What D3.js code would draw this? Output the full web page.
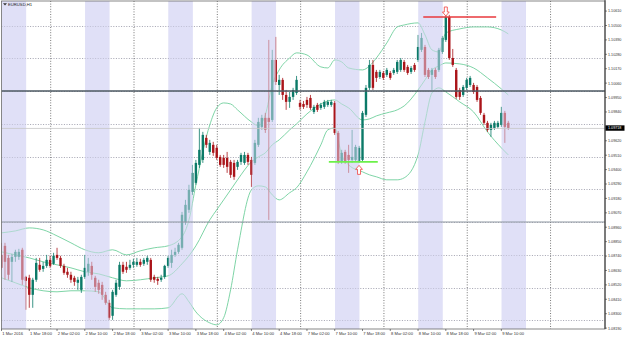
<!DOCTYPE html>
<html>
<head>
<meta charset="utf-8">
<script src="https://cdn.jsdelivr.net/npm/d3@7/dist/d3.min.js"></script>
<style>
  body { margin: 0; background: #fff; }
  svg { display: block; }
  text { font-family: "Liberation Sans", Arial, sans-serif; }
</style>
</head>
<body>
<div class="chart"></div>
<script>
// EURUSD H1, 1 Mar 2016 10:00 .. 9 Mar 2016 12:00 (one value per hourly bar)
var barOpen = [1.08749,1.08818,1.08726,1.08696,1.08734,1.08734,1.08788,1.08581,1.08574,1.08444,
  1.08559,1.08673,1.08642,1.08665,1.08711,1.08681,1.08749,1.08726,1.08665,1.08620,
  1.08597,1.08574,1.08536,1.08482,1.08581,1.08620,1.08665,1.08574,1.08536,1.08520,
  1.08444,1.08383,1.08284,1.08444,1.08505,1.08673,1.08658,1.08650,1.08673,1.08673,
  1.08696,1.08681,1.08696,1.08711,1.08581,1.08566,1.08559,1.08581,1.08665,1.08688,
  1.08749,1.08772,1.08803,1.09001,1.09093,1.09230,1.09299,1.09436,1.09474,1.09642,
  1.09535,1.09589,1.09566,1.09497,1.09490,1.09490,1.09459,1.09451,1.09421,1.09459,
  1.09451,1.09512,1.09474,1.09451,1.09589,1.09726,1.09795,1.09795,1.09779,1.10237,
  1.10046,1.10085,1.09970,1.09917,1.09955,1.09985,1.09909,1.09901,1.09932,1.09947,
  1.09840,1.09894,1.09871,1.09879,1.09894,1.09894,1.09909,1.09680,1.09459,1.09535,
  1.09512,1.09474,1.09474,1.09459,1.09474,1.09818,1.10024,1.10199,1.10146,1.10107,
  1.10138,1.10123,1.10138,1.10138,1.10146,1.10161,1.10222,1.10184,1.10146,1.10199,
  1.10237,1.10314,1.10336,1.10161,1.10123,1.10161,1.10161,1.10298,1.10390,1.10565,
  1.10252,1.10161,1.10008,1.09970,1.10024,1.10046,1.10046,1.10031,1.09947,1.09818,
  1.09757,1.09703,1.09718,1.09726,1.09741,1.09833,1.09757];
var barHigh = [1.08841,1.08841,1.08749,1.08757,1.08788,1.08795,1.08803,1.08589,1.08597,1.08574,
  1.08726,1.08726,1.08696,1.08749,1.08742,1.08765,1.08803,1.08742,1.08681,1.08650,
  1.08620,1.08589,1.08581,1.08597,1.08749,1.08726,1.08696,1.08589,1.08559,1.08543,
  1.08467,1.08406,1.08482,1.08559,1.08696,1.08696,1.08696,1.08711,1.08719,1.08726,
  1.08719,1.08726,1.08742,1.08726,1.08597,1.08581,1.08597,1.08673,1.08742,1.08788,
  1.08803,1.08841,1.09077,1.09169,1.09284,1.09436,1.09474,1.09718,1.09688,1.09665,
  1.09627,1.09612,1.09589,1.09512,1.09512,1.09535,1.09474,1.09474,1.09474,1.09528,
  1.09535,1.09528,1.09497,1.09627,1.09795,1.09818,1.09833,1.10390,1.10314,1.10413,
  1.10123,1.10100,1.10008,1.09993,1.10024,1.10115,1.09932,1.09924,1.09955,1.09970,
  1.09894,1.09909,1.09909,1.09932,1.09932,1.09932,1.09924,1.09695,1.09551,1.09551,
  1.09589,1.09703,1.09589,1.09581,1.09848,1.10046,1.10237,1.10237,1.10161,1.10161,
  1.10153,1.10176,1.10153,1.10176,1.10237,1.10252,1.10237,1.10199,1.10191,1.10214,
  1.10428,1.10443,1.10352,1.10176,1.10176,1.10176,1.10329,1.10420,1.10581,1.10581,
  1.10321,1.10176,1.10024,1.10046,1.10100,1.10115,1.10062,1.10046,1.09962,1.09833,
  1.09772,1.09757,1.09772,1.09772,1.09879,1.09848,1.09772];
var barLow = [1.08635,1.08559,1.08559,1.08543,1.08696,1.08711,1.08520,1.08330,1.08345,1.08345,
  1.08543,1.08620,1.08620,1.08650,1.08650,1.08673,1.08711,1.08650,1.08597,1.08574,
  1.08536,1.08513,1.08482,1.08459,1.08566,1.08589,1.08559,1.08467,1.08452,1.08406,
  1.08368,1.08253,1.08253,1.08429,1.08482,1.08604,1.08612,1.08635,1.08650,1.08658,
  1.08658,1.08665,1.08673,1.08543,1.08536,1.08520,1.08543,1.08566,1.08650,1.08650,
  1.08734,1.08757,1.08788,1.08978,1.09070,1.09207,1.09284,1.09413,1.09451,1.09566,
  1.09512,1.09505,1.09474,1.09421,1.09413,1.09375,1.09337,1.09322,1.09398,1.09436,
  1.09436,1.09436,1.09268,1.09436,1.09573,1.09703,1.09680,1.09016,1.09764,1.10046,
  1.09970,1.09932,1.09856,1.09871,1.09932,1.09970,1.09856,1.09863,1.09871,1.09856,
  1.09825,1.09840,1.09856,1.09863,1.09879,1.09879,1.09665,1.09444,1.09444,1.09444,
  1.09375,1.09451,1.09459,1.09451,1.09459,1.09802,1.10008,1.10008,1.10069,1.10092,
  1.10085,1.10107,1.10085,1.10123,1.10130,1.10146,1.10146,1.10123,1.10130,1.10146,
  1.10222,1.10298,1.10107,1.10092,1.10008,1.10092,1.10146,1.10283,1.10375,1.10237,
  1.10184,1.09940,1.09932,1.09955,1.10008,1.10031,1.09978,1.09917,1.09818,1.09741,
  1.09688,1.09650,1.09703,1.09711,1.09726,1.09604,1.09703];
var barClose = [1.08650,1.08696,1.08597,1.08734,1.08772,1.08772,1.08559,1.08551,1.08444,1.08559,
  1.08688,1.08635,1.08665,1.08711,1.08665,1.08742,1.08726,1.08665,1.08612,1.08597,
  1.08559,1.08543,1.08559,1.08581,1.08650,1.08681,1.08597,1.08505,1.08482,1.08444,
  1.08383,1.08269,1.08467,1.08536,1.08673,1.08620,1.08635,1.08673,1.08696,1.08696,
  1.08673,1.08711,1.08726,1.08559,1.08559,1.08551,1.08574,1.08665,1.08726,1.08749,
  1.08772,1.08826,1.09055,1.09131,1.09245,1.09375,1.09451,1.09551,1.09665,1.09589,
  1.09604,1.09528,1.09490,1.09436,1.09436,1.09421,1.09360,1.09345,1.09459,1.09512,
  1.09512,1.09459,1.09360,1.09604,1.09764,1.09795,1.09703,1.09764,1.10237,1.10069,
  1.10085,1.09970,1.09917,1.09955,1.10008,1.10085,1.09879,1.09879,1.09894,1.09871,
  1.09879,1.09856,1.09894,1.09917,1.09917,1.09917,1.09680,1.09459,1.09528,1.09459,
  1.09474,1.09497,1.09573,1.09566,1.09833,1.10024,1.10199,1.10024,1.10100,1.10146,
  1.10100,1.10161,1.10100,1.10161,1.10222,1.10237,1.10161,1.10138,1.10176,1.10161,
  1.10336,1.10405,1.10123,1.10107,1.10161,1.10107,1.10314,1.10405,1.10565,1.10252,
  1.10199,1.09955,1.09955,1.10031,1.10085,1.10100,1.09993,1.09932,1.09833,1.09757,
  1.09703,1.09741,1.09757,1.09757,1.09833,1.09726,1.09718];

// Bollinger band values at these bars
var bandIdx = [0,4,8,12,16,20,24,28,32,36,40,44,48,52,54,56,60,62,64,66,68,72,74,76,78,80,83,85,88,92,
  94,96,98,100,104,106,108,111,114,116,120,122,124,126,128,132,136,140,144,146];
var bandUpper = [1.08917,1.08932,1.08955,1.08940,1.08894,1.08841,1.08788,1.08765,1.08788,1.08749,
  1.08780,1.08803,1.08818,1.08887,1.09016,1.09284,1.09741,1.09871,1.09909,1.09901,
  1.09856,1.09764,1.09734,1.09818,1.10046,1.10161,1.10252,1.10291,1.10275,1.10184,
  1.10176,1.10237,1.10222,1.10176,1.10161,1.10191,1.10252,1.10367,1.10489,1.10504,
  1.10520,1.10428,1.10314,1.10298,1.10443,1.10474,1.10489,1.10489,1.10466,1.10436];
var bandMiddle = [1.08772,1.08749,1.08726,1.08696,1.08673,1.08650,1.08620,1.08604,1.08574,1.08551,
  1.08559,1.08574,1.08589,1.08681,1.08742,1.08818,1.09016,1.09093,1.09169,1.09245,
  1.09322,1.09459,1.09497,1.09528,1.09589,1.09627,1.09703,1.09749,1.09825,1.09901,
  1.09924,1.09932,1.09901,1.09871,1.09779,1.09787,1.09810,1.09833,1.09856,1.09886,
  1.10008,1.10085,1.10161,1.10191,1.10214,1.10207,1.10176,1.10100,1.10016,1.09970];
var bandLower = [1.08574,1.08536,1.08498,1.08475,1.08467,1.08475,1.08475,1.08467,1.08345,1.08337,
  1.08337,1.08337,1.08345,1.08452,1.08391,1.08314,1.08230,1.08215,1.08269,1.08482,
  1.08788,1.09245,1.09276,1.09268,1.09207,1.09169,1.09223,1.09261,1.09383,1.09589,
  1.09703,1.09718,1.09512,1.09436,1.09383,1.09360,1.09345,1.09322,1.09322,1.09337,
  1.09512,1.09764,1.09985,1.10024,1.09993,1.09917,1.09840,1.09688,1.09566,1.09512];

// time axis: bar index and text
var timeTickIdx = [0,8,16,24,32,40,48,56,64,72,80,88,96,104,112,120,128,136,144];
var timeTickText = ["1 Mar 2016","1 Mar 18:00","2 Mar 02:00","2 Mar 10:00","2 Mar 18:00","3 Mar 02:00",
  "3 Mar 10:00","3 Mar 18:00","4 Mar 02:00","4 Mar 10:00","4 Mar 18:00","7 Mar 02:00","7 Mar 10:00",
  "7 Mar 18:00","8 Mar 02:00","8 Mar 10:00","8 Mar 18:00","9 Mar 02:00","9 Mar 10:00"];
var priceTicks = [1.10610,1.10500,1.10390,1.10280,1.10170,1.10060,1.09950,1.09840,1.09730,1.09620,
  1.09510,1.09400,1.09290,1.09180,1.09070,1.08960,1.08850,1.08740,1.08630,1.08520,1.08410,1.08300,1.08190];
var gridPrices = [1.0825,1.0850,1.0875,1.0900,1.0925,1.0950,1.0975,1.1000,1.1025,1.1050];
var dayStartIdx = [14,38,62,86,110,134,158];
var sessionStartIdx = [0,24,48,72,96,120,144];
var levelPrices = [1.1000, 1.0900];
var resistance = {price: 1.10565, from: 121.5, to: 142.5, arrowAt: 128};
var support = {price: 1.09459, from: 94.3, to: 108.4, arrowAt: 103};

var svgWidth = 625, svgHeight = 339;
var plot = {left: 1.5, top: 1, right: 605, bottom: 329};

var svg = d3.select(".chart").append("svg")
  .attr("width", svgWidth).attr("height", svgHeight);
svg.append("rect").attr("width", svgWidth).attr("height", svgHeight).attr("fill", "#fff");

var x = d3.scaleLinear().domain([0, 146]).range([1.5, 508.3]);
var y = d3.scaleLinear().domain([1.09, 1.10]).range([222, 91]);

var bars = barOpen.map(function (o, i) {
  return {i: i, o: o, h: barHigh[i], l: barLow[i], c: barClose[i]};
});

svg.append("clipPath").attr("id", "plotclip").append("rect")
  .attr("x", plot.left).attr("y", plot.top)
  .attr("width", plot.right - plot.left).attr("height", plot.bottom - plot.top);
var g = svg.append("g").attr("clip-path", "url(#plotclip)");

var sessionW = x(7) - x(0);
var lavender = "#e0e0f7";

// session shading (under everything)
g.selectAll(".session").data(sessionStartIdx).enter().append("rect")
  .attr("x", d => x(d) + 0.3).attr("y", plot.top)
  .attr("width", sessionW).attr("height", plot.bottom - plot.top)
  .attr("fill", lavender);

// grid
g.selectAll(".hgrid").data(gridPrices).enter().append("line")
  .attr("x1", plot.left).attr("x2", plot.right)
  .attr("y1", d => Math.round(y(d)) + 0.5).attr("y2", d => Math.round(y(d)) + 0.5)
  .attr("stroke", "#8c8c9c").attr("stroke-width", 0.8).attr("stroke-dasharray", "1,1.6");
g.selectAll(".vgrid").data(dayStartIdx).enter().append("line")
  .attr("x1", d => x(d) + 0.6).attr("x2", d => x(d) + 0.6)
  .attr("y1", plot.top).attr("y2", plot.bottom)
  .attr("stroke", "#555").attr("stroke-width", 0.8).attr("stroke-dasharray", "1,1.6");

// bollinger bands
[bandUpper, bandMiddle, bandLower].forEach(function (band) {
  var line = d3.line()
    .x((d, k) => x(bandIdx[k]))
    .y(d => y(d))
    .curve(d3.curveMonotoneX);
  g.append("path").datum(band)
    .attr("d", line)
    .attr("fill", "none")
    .attr("stroke", "#6fcf9c")
    .attr("stroke-width", 0.9);
});

// candles
var bull = "#0b7a68", bear = "#aa1419";
var candle = g.selectAll(".candle").data(bars).enter().append("g");
candle.append("line")
  .attr("x1", d => x(d.i)).attr("x2", d => x(d.i))
  .attr("y1", d => y(d.h)).attr("y2", d => y(d.l))
  .attr("stroke", d => d.c >= d.o ? bull : bear).attr("stroke-width", 0.8);
candle.append("rect")
  .attr("x", d => x(d.i) - 1.2)
  .attr("y", d => y(Math.max(d.o, d.c)))
  .attr("width", 2.4)
  .attr("height", d => Math.max(0.8, Math.abs(y(d.o) - y(d.c))))
  .attr("fill", d => d.c >= d.o ? bull : bear);

// session shading drawn again, see-through, so bars in it look pale
g.selectAll(".sessionTop").data(sessionStartIdx).enter().append("rect")
  .attr("x", d => x(d) + 0.3).attr("y", plot.top)
  .attr("width", sessionW).attr("height", plot.bottom - plot.top)
  .attr("fill", lavender).attr("opacity", 0.5);

// horizontal level lines
g.selectAll(".level").data(levelPrices).enter().append("line")
  .attr("x1", plot.left).attr("x2", plot.right)
  .attr("y1", d => y(d)).attr("y2", d => y(d))
  .attr("stroke", (d, k) => k === 0 ? "#4d5862" : "#8d96a0")
  .attr("stroke-width", (d, k) => k === 0 ? 1.3 : 1);

// last price line
var lastClose = barClose[barClose.length - 1];
g.append("line")
  .attr("x1", plot.left).attr("x2", plot.right)
  .attr("y1", y(lastClose) + 0.5).attr("y2", y(lastClose) + 0.5)
  .attr("stroke", "#c8c8c8").attr("stroke-width", 0.8);

// support / resistance marks
g.append("line")
  .attr("x1", x(resistance.from)).attr("x2", x(resistance.to))
  .attr("y1", y(resistance.price)).attr("y2", y(resistance.price))
  .attr("stroke", "#e8393c").attr("stroke-width", 1.6);
g.append("line")
  .attr("x1", x(support.from)).attr("x2", x(support.to))
  .attr("y1", y(support.price)).attr("y2", y(support.price))
  .attr("stroke", "#6cf04a").attr("stroke-width", 1.8);

function arrowPath(cx, tipY, dir) {
  // dir = -1 : arrow pointing up, tip at tipY ; dir = 1 : pointing down
  var hw = 3.4, sw = 1.5, hh = 4, len = 9;
  var s = -dir;
  var pts = [[cx, tipY], [cx + hw, tipY + s * hh], [cx + sw, tipY + s * hh], [cx + sw, tipY + s * len],
    [cx - sw, tipY + s * len], [cx - sw, tipY + s * hh], [cx - hw, tipY + s * hh]];
  return "M" + pts.map(p => p.join(",")).join("L") + "Z";
}
g.append("path")
  .attr("d", arrowPath(x(support.arrowAt), y(support.price) + 3.5, -1))
  .attr("fill", "#fff").attr("stroke", "#f04040").attr("stroke-width", 0.8);
g.append("path")
  .attr("d", arrowPath(x(resistance.arrowAt), y(resistance.price) - 1, 1))
  .attr("fill", "#fff").attr("stroke", "#f04040").attr("stroke-width", 0.8);

// frame
svg.append("rect")
  .attr("x", plot.left).attr("y", plot.top)
  .attr("width", plot.right - plot.left).attr("height", plot.bottom - plot.top)
  .attr("fill", "none").attr("stroke", "#6a6a6a").attr("stroke-width", 0.8);
svg.append("line")
  .attr("x1", plot.right).attr("x2", plot.right).attr("y1", 0).attr("y2", plot.bottom)
  .attr("stroke", "#333").attr("stroke-width", 1);

// title
svg.append("path").attr("d", "M3,3.2L7,3.2L5,5.6Z").attr("fill", "#333");
svg.append("text").attr("x", 8).attr("y", 5.6)
  .attr("font-size", 4.2).attr("fill", "#222").text("EURUSD,H1");

// price axis
var yLast = y(lastClose);
var shown = priceTicks.filter(p => Math.abs(y(p) - yLast) > 5);
var pAxis = svg.append("g");
pAxis.selectAll("line").data(shown).enter().append("line")
  .attr("x1", plot.right).attr("x2", plot.right + 2)
  .attr("y1", d => y(d)).attr("y2", d => y(d))
  .attr("stroke", "#333").attr("stroke-width", 0.6);
pAxis.selectAll("text").data(shown).enter().append("text")
  .attr("x", plot.right + 3).attr("y", d => y(d) + 1.4)
  .attr("font-size", 3.7).attr("fill", "#333")
  .text(d => d3.format(".5f")(d));
svg.append("rect").attr("x", plot.right + 0.5).attr("y", yLast - 2.6)
  .attr("width", 19).attr("height", 5.4).attr("fill", "#000");
svg.append("text").attr("x", plot.right + 3).attr("y", yLast + 1.4)
  .attr("font-size", 3.7).attr("fill", "#fff").text(d3.format(".5f")(lastClose));

// time axis
var tAxis = svg.append("g");
tAxis.selectAll("line").data(timeTickIdx).enter().append("line")
  .attr("x1", d => x(d)).attr("x2", d => x(d))
  .attr("y1", plot.bottom).attr("y2", plot.bottom + 2)
  .attr("stroke", "#333").attr("stroke-width", 0.6);
tAxis.selectAll("text").data(timeTickIdx).enter().append("text")
  .attr("x", d => x(d) + 0.8).attr("y", plot.bottom + 6.3)
  .attr("font-size", 4.1).attr("fill", "#333")
  .text((d, k) => timeTickText[k]);
</script>
</body>
</html>
